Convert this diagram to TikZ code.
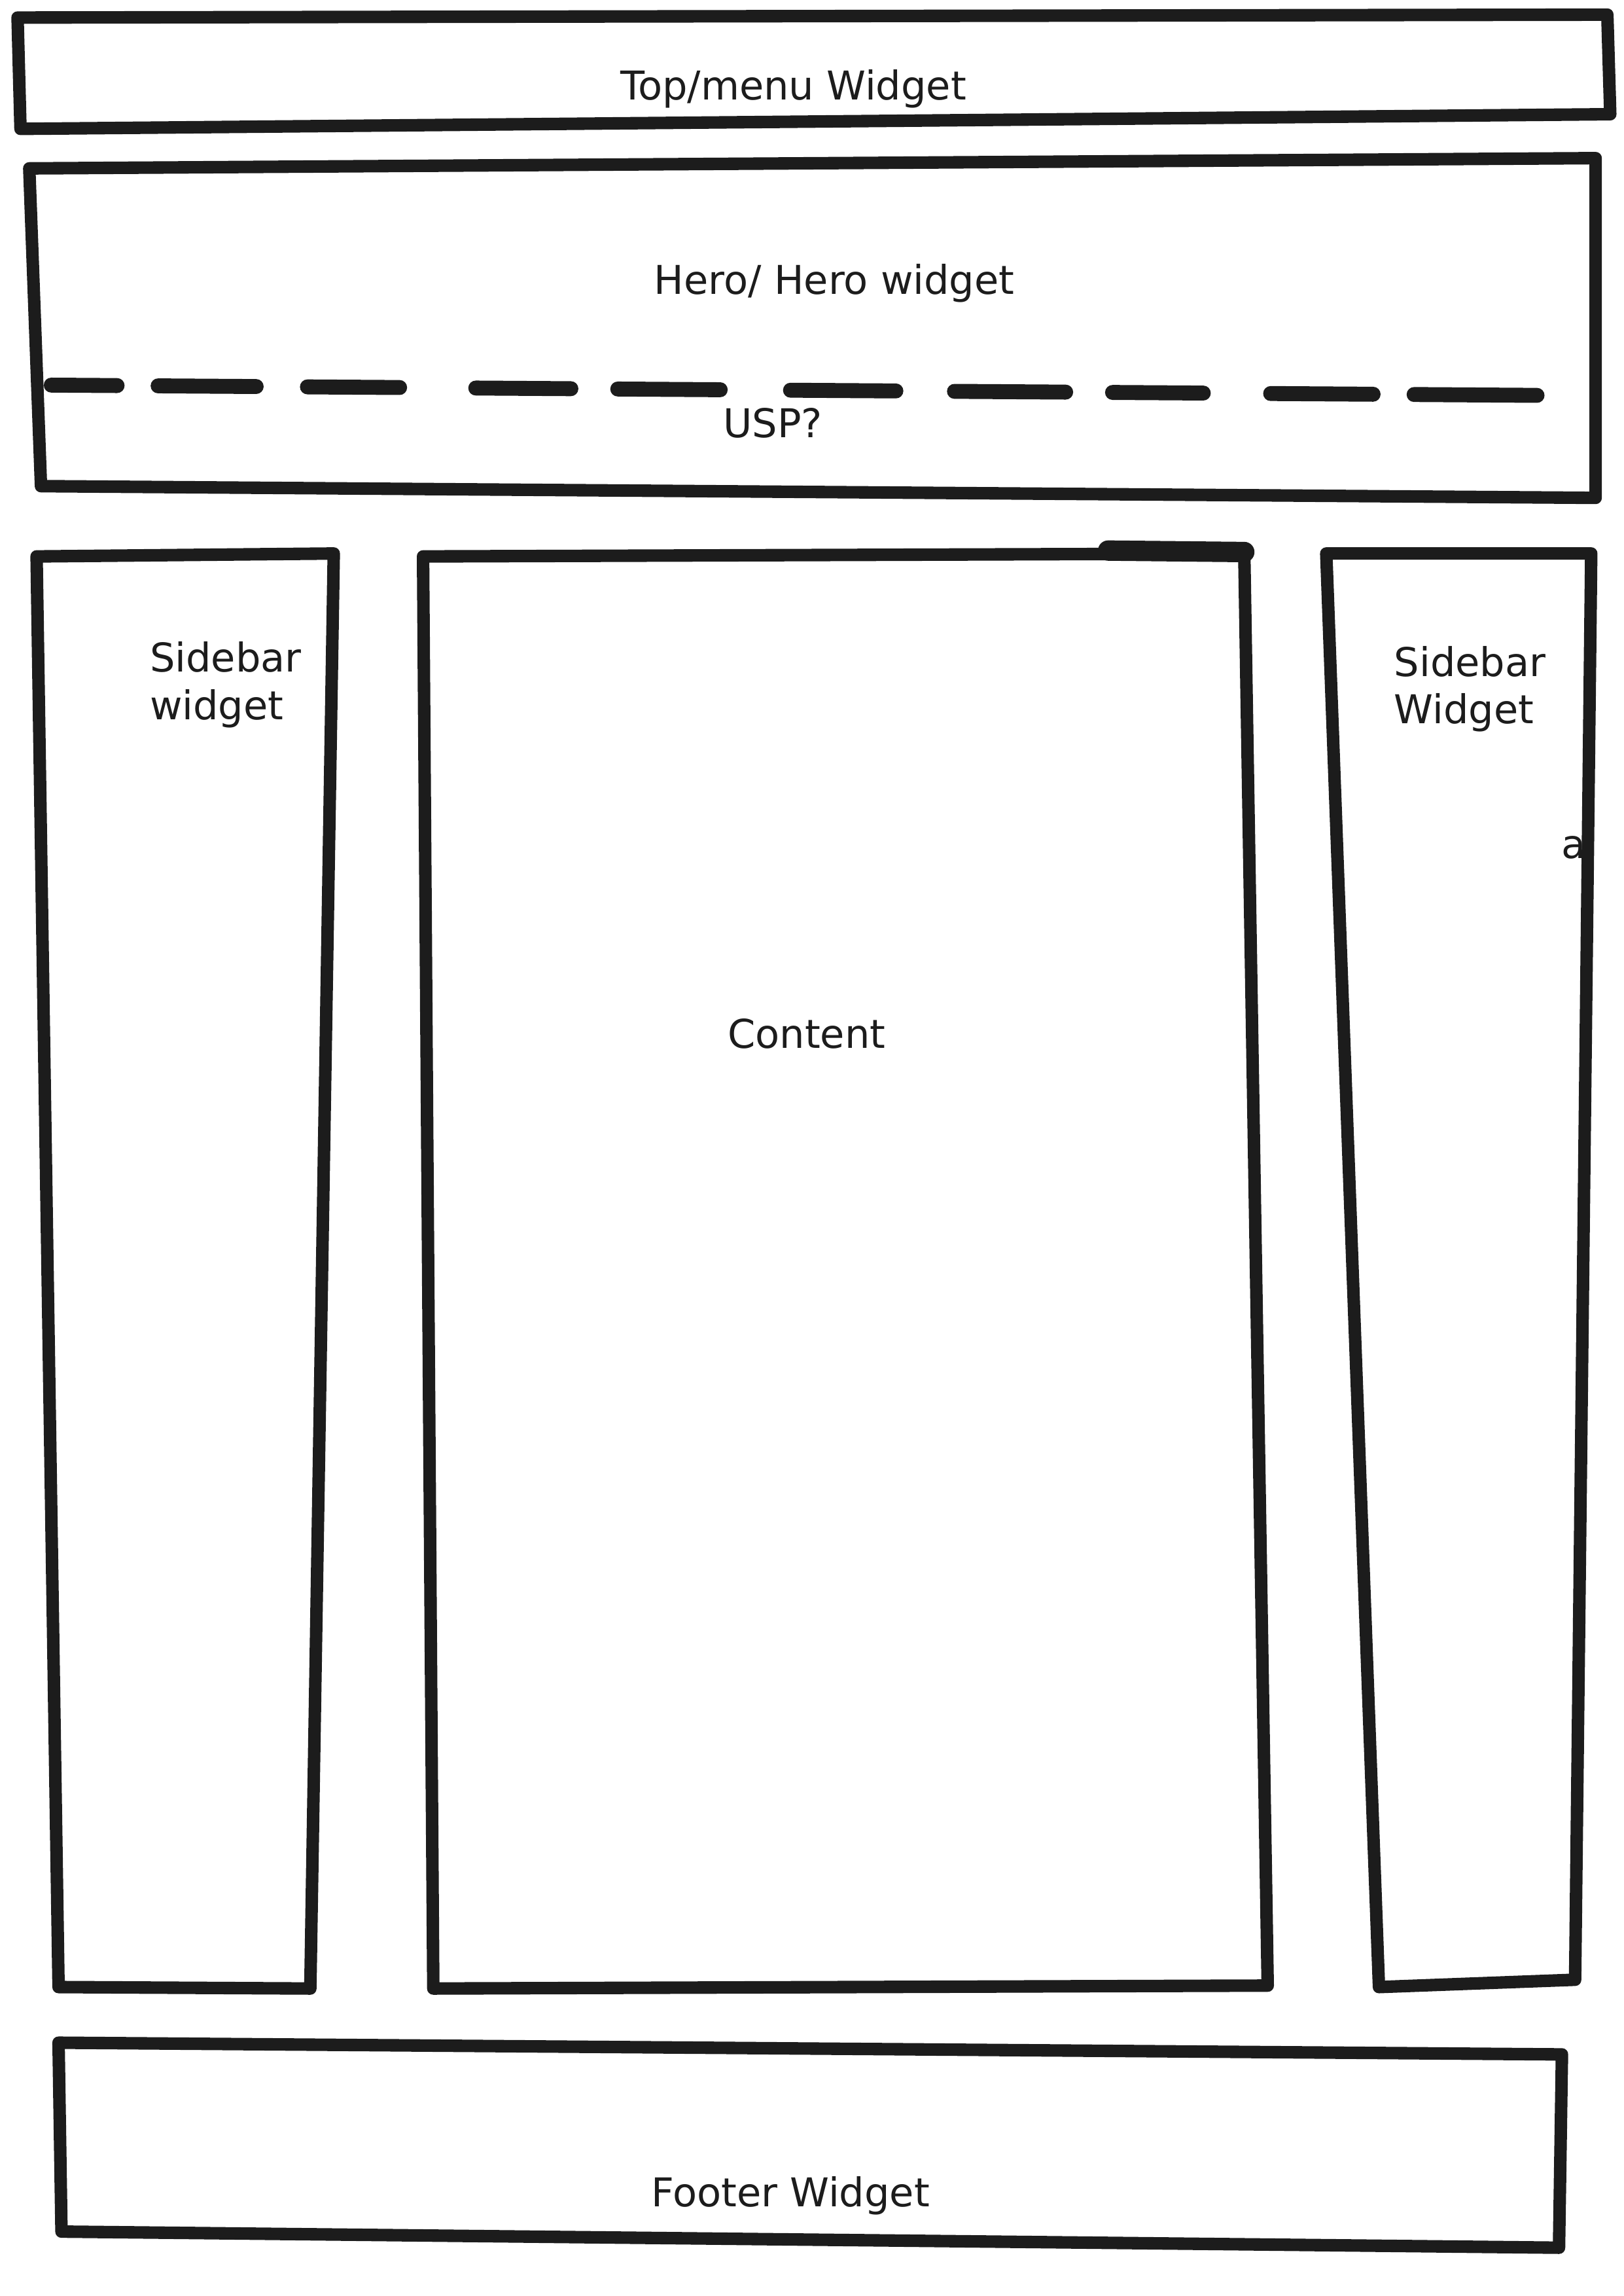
\documentclass[tikz,border=0pt]{standalone}
\usepackage{fontspec}
\setmainfont{DejaVu Sans}
\definecolor{ink}{HTML}{1C1C1C}
\newcommand{\pen}{4.6pt}
\tikzset{
  box/.style = {line width = \pen, draw = ink, line join = round, line cap = round},
  dashbit/.style = {line width = 5.5pt, draw = ink, line cap = round},
  lbl/.style = {text = ink, anchor = base, inner sep = 0pt, font = \fontsize{14.6}{17.4}\selectfont},
}

\begin{document}
\begin{tikzpicture}[x = 0.018936cm, y = -0.018936cm]
\useasboundingbox (0,0) rectangle (1109,1568);

% top bar
\draw [box] (12,12) -- (1098,10) -- (1100,78) -- (14,88) -- cycle;
\node [lbl] (topmenu) at (542,68) {Top/menu Widget};

% hero
\draw [box] (20,115) -- (1090,108) -- (1090,340) -- (28,332) -- cycle;
\node [lbl] (hero) at (570,201) {Hero/ Hero widget};
\foreach \a/\b in {35/80, 108/175, 210/273, 325/390, 422/492, 540/612, 652/728, 760/822, 868/938, 966/1050}
  \draw [dashbit] (\a,{263 + (\a-35)*0.0069}) -- (\b,{263 + (\b-35)*0.0069});
\node [lbl] (usp) at (528,299) {USP?};

% left sidebar
\draw [box] (25,380) -- (228,378) -- (212,1358) -- (40,1357) -- cycle;
\node [lbl, align = left, anchor = north west] (sideL) at (102,438) {Sidebar\\widget};

% content
\draw [box] (289,380) -- (850,378) -- (866,1356) -- (296,1358) -- cycle;
\draw [line width = 7.5pt, draw = ink, line cap = round] (757,376) -- (850,377);
\node [lbl] (content) at (551,716) {Content};

% right sidebar
\draw [box] (906,378) -- (1087,378) -- (1076,1352) -- (942,1357) -- cycle;
\node [lbl, align = left, anchor = north west] (sideR) at (952,441) {Sidebar\\Widget};
\node [lbl] (extra) at (1075,586) {a};

% footer
\draw [box] (40,1395) -- (1067,1403) -- (1065,1535) -- (42,1524) -- cycle;
\node [lbl] (footer) at (540,1507) {Footer Widget};
\end{tikzpicture}
\end{document}
